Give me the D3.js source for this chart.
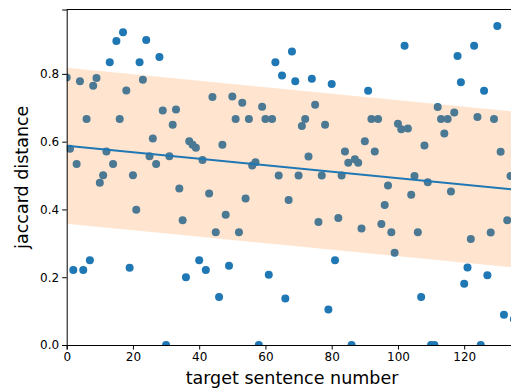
<!DOCTYPE html>
<html>
<head>
<meta charset="utf-8">
<script src="https://cdn.jsdelivr.net/npm/d3@7"></script>
<style>
  body { margin: 0; background: #fff; }
  svg { display: block; font-family: "DejaVu Sans", sans-serif; }
</style>
</head>
<body>
<div id="chart"></div>
<script>
// jaccard distance per target sentence (index = sentence number)
const distances = [
  0.789, 0.579, 0.221, 0.534, 0.778, 0.221, 0.667, 0.25, 0.765, 0.788,
  0.479, 0.501, 0.571, 0.834, 0.534, 0.897, 0.667, 0.923, 0.751, 0.228,
  0.501, 0.399, 0.834, 0.783, 0.90, 0.557, 0.609, 0.534, 0.85, 0.692,
  0.0, 0.557, 0.650, 0.695, 0.462, 0.368, 0.2, 0.601, 0.591, 0.582,
  0.25, 0.546, 0.221, 0.447, 0.732, 0.333, 0.142, 0.591, 0.384, 0.234,
  0.733, 0.667, 0.333, 0.715, 0.432, 0.667, 0.530, 0.539, 0.0, 0.703,
  0.667, 0.207, 0.667, 0.834, 0.5, 0.795, 0.137, 0.428, 0.866, 0.778,
  0.5, 0.646, 0.667, 0.556, 0.786, 0.709, 0.363, 0.5, 0.650, 0.105,
  0.770, 0.25, 0.375, 0.5, 0.571, 0.538, 0.0, 0.548, 0.538, 0.344,
  0.601, 0.750, 0.667, 0.571, 0.667, 0.357, 0.413, 0.471, 0.333, 0.272,
  0.653, 0.637, 0.883, 0.639, 0.443, 0.499, 0.333, 0.142, 0.589, 0.48,
  0.0, 0.0, 0.702, 0.667, 0.624, 0.667, 0.453, 0.686, 0.853, 0.775,
  0.181, 0.229, 0.313, 0.883, 0.673, 0.0, 0.750, 0.206, 0.332, 0.667,
  0.941, 0.570, 0.089, 0.368, 0.499, 0.076
];

// fitted trend line (at x = 0 and x = 140) and band half-width
const fitX = [0, 140];
const fitY = [0.588, 0.454];
const bandHalf = 0.23;

const xTicks = [0, 20, 40, 60, 80, 100, 120];
const yTicks = [0.0, 0.2, 0.4, 0.6, 0.8];

const width = 511, height = 388;
const margin = { top: 9.5, left: 66.7, bottom: 43 };

const svg = d3.select('#chart').append('svg')
    .attr('width', width)
    .attr('height', height);

const x = d3.scaleLinear()
    .domain([0, 140])
    .range([margin.left, margin.left + 140 * 3.3125]);

const y = d3.scaleLinear()
    .domain([0, 0.99])
    .range([height - margin.bottom, margin.top]);

svg.append('clipPath').attr('id', 'plot-clip')
  .append('rect')
    .attr('x', x(0))
    .attr('y', y(0.99))
    .attr('width', x(140) - x(0))
    .attr('height', y(0) - y(0.99));

const plot = svg.append('g').attr('clip-path', 'url(#plot-clip)');

// ----- points
plot.selectAll('circle')
    .data(distances)
    .enter()
    .append('circle')
    .attr('cx', (d, i) => x(i))
    .attr('cy', d => y(d))
    .attr('r', 4)
    .attr('fill', '#1f77b4');

// ----- band (drawn over the points, like fill_between)
const fit = fitX.map((v, i) => ({ x: v, y: fitY[i] }));

plot.append('path')
    .datum(fit)
    .attr('d', d3.area()
        .x(d => x(d.x))
        .y0(d => y(d.y - bandHalf))
        .y1(d => y(d.y + bandHalf)))
    .attr('fill', '#ff7f0e')
    .attr('fill-opacity', 0.2);

// ----- trend line
plot.append('path')
    .datum(fit)
    .attr('d', d3.line().x(d => x(d.x)).y(d => y(d.y)))
    .attr('fill', 'none')
    .attr('stroke', '#1f77b4')
    .attr('stroke-width', 1.8);

// ----- axes
const xAxis = svg.append('g')
    .attr('transform', `translate(0,${y(0)})`)
    .call(d3.axisBottom(x).tickValues(xTicks).tickFormat(d3.format('d')).tickSizeOuter(0).tickSize(4.5).tickPadding(3));

const yAxis = svg.append('g')
    .attr('transform', `translate(${x(0)},0)`)
    .call(d3.axisLeft(y).tickValues(yTicks).tickFormat(d3.format('.1f')).tickSizeOuter(0).tickSize(4.5).tickPadding(3));

[xAxis, yAxis].forEach(a => {
    a.selectAll('text').attr('font-size', 12).attr('fill', '#000').attr('font-family', '"DejaVu Sans", sans-serif');
    a.selectAll('line').attr('stroke', '#000').attr('stroke-width', 1);
    a.select('.domain').attr('stroke', '#000').attr('stroke-width', 1);
});

// top spine
svg.append('line')
    .attr('x1', x(0)).attr('x2', x(140))
    .attr('y1', y(0.99)).attr('y2', y(0.99))
    .attr('stroke', '#000')
    .attr('stroke-width', 1);

// ----- labels
svg.append('text')
    .attr('x', 292)
    .attr('y', 384)
    .attr('text-anchor', 'middle')
    .attr('font-size', 17.5)
    .text('target sentence number');

svg.append('text')
    .attr('transform', `translate(28,${(y(0) + y(0.99)) / 2}) rotate(-90)`)
    .attr('text-anchor', 'middle')
    .attr('font-size', 17.5)
    .text('jaccard distance');
</script>
</body>
</html>
